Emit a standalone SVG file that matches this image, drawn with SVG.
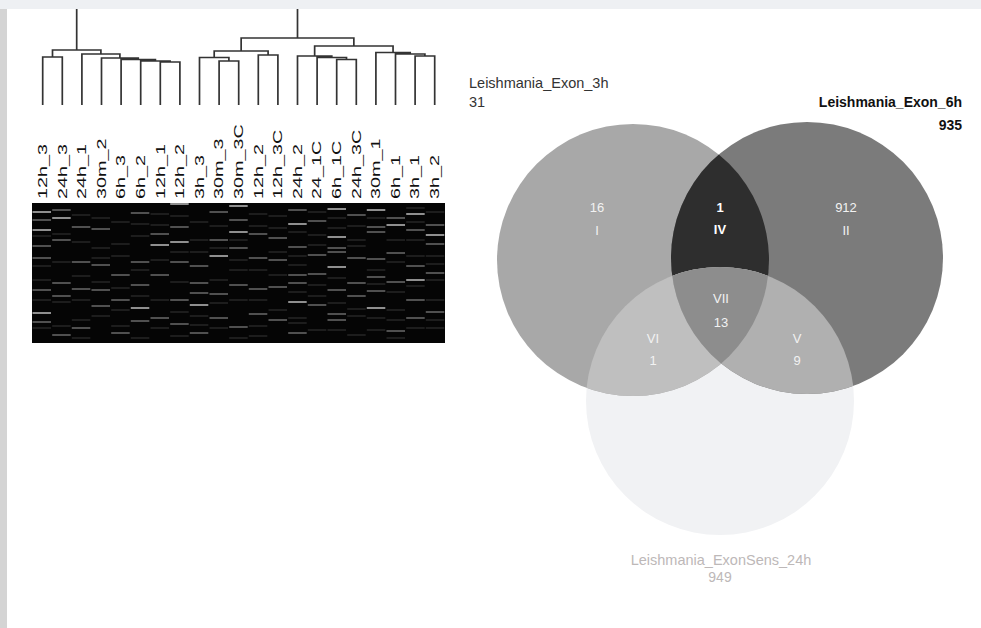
<svg xmlns="http://www.w3.org/2000/svg" width="981" height="628" viewBox="0 0 981 628">
<style>
text{font-family:"Liberation Sans",Arial,sans-serif}
.tree{fill:none;stroke:#333333;stroke-width:1.7}
.lab{font-size:12px;fill:#111111}
.hb{fill:none;stroke:#bdbdbd;stroke-width:1.5}
.hm{fill:none;stroke:#6a6a6a;stroke-width:1.3}
.hd{fill:none;stroke:#363636;stroke-width:1.2}
.vn{font-size:13px;fill:#f2f2f2;text-anchor:middle}
.title{font-size:14px}
</style>
<defs>
<clipPath id="clipA"><circle cx="633" cy="260" r="136"/></clipPath>
<clipPath id="clipB"><circle cx="807" cy="258" r="136"/></clipPath>
</defs>
<rect x="0" y="0" width="981" height="628" fill="#ffffff"/>
<rect x="0" y="0" width="981" height="9" fill="#eef0f3"/>
<rect x="0" y="9" width="7" height="619" fill="#d4d4d4"/>

<g id="connectors">
<g id="dendrogram" class="tree">
<path d="M42.7 105V57H62.3V105M160.3 105V62H179.9V105M140.7 105V61H170.1V62M121.1 105V59.5H155.4V61M101.5 105V58H138.25V59.5M81.9 105V54H119.9V58M52.5 57V50H100.9V54M76.7 50V9"/>
<path d="M219.1 105V61H238.7V105M199.5 105V57.5H228.9V61M258.3 105V55H277.9V105M214.2 57.5V51H268.1V55M336.7 105V59.5H356.3V105M317.1 105V57.5H346.5V59.5M297.5 105V56H331.8V57.5M415.1 105V56H434.7V105M395.5 105V54H424.9V56M375.9 105V52.5H410.2V54M314.65 56V46H393.05V52.5M241.15 51V38H353.85V46M297.5 38V9"/>
</g>
</g>

<g id="sample-labels" class="lab">
<text transform="translate(47,199) rotate(-90) scale(1.65,1)">12h_3</text>
<text transform="translate(66.6,199) rotate(-90) scale(1.65,1)">24h_3</text>
<text transform="translate(86.2,199) rotate(-90) scale(1.65,1)">24h_1</text>
<text transform="translate(105.8,199) rotate(-90) scale(1.65,1)">30m_2</text>
<text transform="translate(125.4,199) rotate(-90) scale(1.65,1)">6h_3</text>
<text transform="translate(145,199) rotate(-90) scale(1.65,1)">6h_2</text>
<text transform="translate(164.6,199) rotate(-90) scale(1.65,1)">12h_1</text>
<text transform="translate(184.2,199) rotate(-90) scale(1.65,1)">12h_2</text>
<text transform="translate(203.8,199) rotate(-90) scale(1.65,1)">3h_3</text>
<text transform="translate(223.4,199) rotate(-90) scale(1.65,1)">30m_3</text>
<text transform="translate(243,199) rotate(-90) scale(1.65,1)">30m_3C</text>
<text transform="translate(262.6,199) rotate(-90) scale(1.65,1)">12h_2</text>
<text transform="translate(282.2,199) rotate(-90) scale(1.65,1)">12h_3C</text>
<text transform="translate(301.8,199) rotate(-90) scale(1.65,1)">24h_2</text>
<text transform="translate(321.4,199) rotate(-90) scale(1.65,1)">24_1C</text>
<text transform="translate(341,199) rotate(-90) scale(1.65,1)">6h_1C</text>
<text transform="translate(360.6,199) rotate(-90) scale(1.65,1)">24h_3C</text>
<text transform="translate(380.2,199) rotate(-90) scale(1.65,1)">30m_1</text>
<text transform="translate(399.8,199) rotate(-90) scale(1.65,1)">6h_1</text>
<text transform="translate(419.4,199) rotate(-90) scale(1.65,1)">3h_1</text>
<text transform="translate(439,199) rotate(-90) scale(1.65,1)">3h_2</text>
</g>

<g id="heatmap">
<rect x="32" y="203" width="413" height="140" fill="#050505"/>
<path class="hd" d="M32.5 236h18.5M32.5 266h18.5M32.5 280h18.5M32.5 300h18.5M32.5 328h18.5
M52.2 234h18.5M52.2 262h18.5M52.2 302h18.5M52.2 326h18.5
M71.8 215h18.5M71.8 242h18.5M71.8 276h18.5M71.8 300h18.5M71.8 320h18.5M71.8 338h18.5
M91.5 218h18.5M91.5 248h18.5M91.5 258h18.5M91.5 282h18.5M91.5 316h18.5
M111.2 222h18.5M111.2 244h18.5M111.2 256h18.5M111.2 288h18.5M111.2 310h18.5M111.2 326h18.5
M130.8 224h18.5M130.8 236h18.5M130.8 270h18.5M130.8 296h18.5M130.8 338h18.5
M150.5 214h18.5M150.5 225h18.5M150.5 260h18.5M150.5 300h18.5M150.5 328h18.5
M170.2 216h18.5M170.2 252h18.5M170.2 282h18.5M170.2 312h18.5M170.2 336h18.5
M189.8 222h18.5M189.8 240h18.5M189.8 252h18.5M189.8 316h18.5M189.8 325h18.5
M209.5 226h18.5M209.5 248h18.5M209.5 280h18.5M209.5 303h18.5M209.5 328h18.5
M229.2 240h18.5M229.2 260h18.5M229.2 270h18.5M229.2 300h18.5M229.2 338h18.5
M248.8 214h18.5M248.8 226h18.5M248.8 270h18.5M248.8 300h18.5M248.8 326h18.5M248.8 336h18.5
M268.5 216h18.5M268.5 228h18.5M268.5 252h18.5M268.5 275h18.5M268.5 310h18.5
M288.2 232h18.5M288.2 256h18.5M288.2 265h18.5M288.2 292h18.5M288.2 318h18.5M288.2 323h18.5
M307.8 212h18.5M307.8 235h18.5M307.8 245h18.5M307.8 285h18.5M307.8 296h18.5M307.8 330h18.5
M327.5 218h18.5M327.5 228h18.5M327.5 278h18.5M327.5 303h18.5M327.5 330h18.5
M347.2 226h18.5M347.2 240h18.5M347.2 246h18.5M347.2 309h18.5M347.2 316h18.5M347.2 335h18.5
M366.8 218h18.5M366.8 270h18.5M366.8 284h18.5M366.8 318h18.5M366.8 330h18.5
M386.5 240h18.5M386.5 262h18.5M386.5 292h18.5M386.5 310h18.5M386.5 320h18.5M386.5 338h18.5
M406.2 208h18.5M406.2 222h18.5M406.2 240h18.5M406.2 256h18.5M406.2 286h18.5M406.2 328h18.5
M425.8 212h18.5M425.8 256h18.5M425.8 264h18.5M425.8 280h18.5M425.8 300h18.5M425.8 320h18.5M425.8 328h18.5"/>
<path class="hm" d="M32.5 220h18.5M32.5 246h18.5M32.5 258h18.5M32.5 290h18.5M32.5 322h18.5
M52.2 210h18.5M52.2 240h18.5M52.2 283h18.5M52.2 296h18.5M52.2 335h18.5
M71.8 227h18.5M71.8 262h18.5M71.8 289h18.5M71.8 328h18.5
M91.5 229h18.5M91.5 265h18.5M91.5 290h18.5M91.5 306h18.5
M111.2 275h18.5M111.2 300h18.5M111.2 333h18.5
M130.8 213h18.5M130.8 262h18.5M130.8 285h18.5M130.8 321h18.5
M150.5 234h18.5M150.5 275h18.5M150.5 318h18.5
M170.2 227h18.5M170.2 262h18.5M170.2 300h18.5M170.2 324h18.5
M189.8 266h18.5M189.8 283h18.5M189.8 293h18.5M189.8 333h18.5
M209.5 212h18.5M209.5 240h18.5M209.5 294h18.5M209.5 318h18.5
M229.2 220h18.5M229.2 248h18.5M229.2 285h18.5M229.2 327h18.5
M248.8 234h18.5M248.8 258h18.5M248.8 289h18.5M248.8 314h18.5
M268.5 238h18.5M268.5 260h18.5M268.5 287h18.5M268.5 320h18.5
M288.2 210h18.5M288.2 247h18.5M288.2 275h18.5M288.2 283h18.5M288.2 333h18.5
M307.8 221h18.5M307.8 255h18.5M307.8 274h18.5M307.8 305h18.5
M327.5 248h18.5M327.5 252h18.5M327.5 290h18.5M327.5 314h18.5M327.5 320h18.5
M347.2 215h18.5M347.2 258h18.5M347.2 283h18.5M347.2 296h18.5
M366.8 227h18.5M366.8 232h18.5M366.8 259h18.5M366.8 277h18.5M366.8 291h18.5
M386.5 218h18.5M386.5 253h18.5M386.5 282h18.5M386.5 331h18.5
M406.2 230h18.5M406.2 266h18.5M406.2 300h18.5M406.2 318h18.5
M425.8 225h18.5M425.8 244h18.5M425.8 273h18.5M425.8 312h18.5"/>
<path class="hb" d="M32.5 212h18.5M32.5 230h18.5M32.5 313h18.5
M52.2 218h18.5
M130.8 308h18.5M150.5 245h18.5
M170.2 204h18.5M170.2 242h18.5
M189.8 305h18.5M209.5 256h18.5
M229.2 206h18.5M229.2 232h18.5
M288.2 224h18.5M288.2 302h18.5
M327.5 209h18.5M327.5 237h18.5M327.5 267h18.5
M366.8 210h18.5M366.8 308h18.5
M386.5 225h18.5
M406.2 214h18.5M406.2 280h18.5
M425.8 235h18.5"/>
</g>

<g id="venn">
<g id="set-24h"><circle cx="720" cy="401" r="134" fill="#f1f2f4"/></g>
<g id="set-3h"><circle cx="633" cy="260" r="136" fill="#a8a8a8"/></g>
<g id="set-6h"><circle cx="807" cy="258" r="136" fill="#7b7b7b"/></g>
<g id="region-IV"><circle cx="807" cy="258" r="136" fill="#2e2e2e" clip-path="url(#clipA)"/></g>
<g id="region-VI"><circle cx="720" cy="401" r="134" fill="#bfbfbf" clip-path="url(#clipA)"/></g>
<g id="region-V"><circle cx="720" cy="401" r="134" fill="#b0b0b0" clip-path="url(#clipB)"/></g>
<g id="region-VII" clip-path="url(#clipB)"><circle cx="720" cy="401" r="134" fill="#8d8d8d" clip-path="url(#clipA)"/></g>
<g id="venn-counts" class="vn">
<text x="597" y="212">16</text>
<text x="597" y="235">I</text>
<text x="720" y="212" font-weight="bold" fill="#ffffff">1</text>
<text x="720" y="234" font-weight="bold" fill="#ffffff">IV</text>
<text x="846" y="212">912</text>
<text x="846" y="235">II</text>
<text x="721" y="303">VII</text>
<text x="721" y="327">13</text>
<text x="653" y="343">VI</text>
<text x="653" y="365">1</text>
<text x="797" y="343">V</text>
<text x="797" y="365">9</text>
</g>
<g id="set-labels" class="title">
<text x="469" y="88" fill="#333333" font-size="14.5">Leishmania_Exon_3h</text>
<text x="469" y="107" fill="#333333" font-size="14.5">31</text>
<text x="962" y="107" text-anchor="end" font-weight="bold" fill="#111111">Leishmania_Exon_6h</text>
<text x="962" y="130" text-anchor="end" font-weight="bold" fill="#111111">935</text>
<text x="721" y="565" text-anchor="middle" fill="#bdb8b8" font-size="14.5">Leishmania_ExonSens_24h</text>
<text x="720" y="582" text-anchor="middle" fill="#bdb8b8">949</text>
</g>
</g>
</svg>
